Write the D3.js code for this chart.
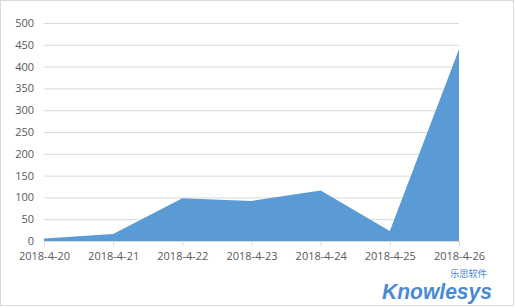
<!DOCTYPE html>
<html>
<head>
<meta charset="utf-8">
<script src="https://cdn.jsdelivr.net/npm/d3@7"></script>
<style>
  body { margin: 0; background: #fff; }
  .tick text { font-family: "Open Sans", "Noto Sans", sans-serif; font-size: 11px; fill: #595959; }
</style>
</head>
<body>
<div id="chart"></div>
<script>
// data
const dates = ["2018-4-20", "2018-4-21", "2018-4-22", "2018-4-23", "2018-4-24", "2018-4-25", "2018-4-26"];
const counts = [6, 16, 98, 92, 116, 23, 440];
const yTicks = [0, 50, 100, 150, 200, 250, 300, 350, 400, 450, 500];

const W = 515, H = 308;
const margin = { top: 23, right: 56, bottom: 67, left: 44 };
const width = W - margin.left - margin.right,
    height = H - margin.top - margin.bottom;

const root = d3.select("#chart").append("svg")
    .attr("width", W)
    .attr("height", H);

// outer frame
root.append("rect")
    .attr("x", 0.5).attr("y", 0.5)
    .attr("width", W - 2).attr("height", H - 3)
    .attr("fill", "#fff")
    .attr("stroke", "#d9d9d9");

const svg = root.append("g")
    .attr("transform", "translate(" + margin.left + "," + margin.top + ")");

const x = d3.scalePoint()
    .domain(dates)
    .range([0, width]);

const y = d3.scaleLinear()
    .domain([0, 500])
    .range([height, 0]);

// gridlines + y labels
const yAxis = svg.append("g")
    .call(d3.axisLeft(y).tickValues(yTicks).tickSize(-width).tickPadding(10));
yAxis.select(".domain").remove();
yAxis.selectAll(".tick line").attr("stroke", "#d9d9d9");
yAxis.selectAll(".tick").filter(d => d === 0).select("line").remove();

// area
const area = d3.area()
    .x(d => x(d.date))
    .y0(y(0))
    .y1(d => y(d.value));

svg.append("path")
    .datum(dates.map((d, i) => ({ date: d, value: counts[i] })))
    .attr("fill", "#5b9bd5")
    .attr("d", area);

// x axis
const xAxis = svg.append("g")
    .attr("transform", "translate(0," + height + ")")
    .call(d3.axisBottom(x).tickSize(5).tickPadding(6).tickSizeOuter(0));
xAxis.select(".domain").attr("stroke", "#d9d9d9");
xAxis.selectAll(".tick line").attr("stroke", "#d9d9d9");

// watermark
root.append("text")
    .attr("x", 382).attr("y", 299)
    .attr("font-family", "Liberation Sans, Arial, sans-serif")
    .attr("font-size", 22)
    .attr("font-weight", "bold")
    .attr("font-style", "italic")
    .attr("fill", "#4a8ad2")
    .attr("textLength", 110)
    .attr("lengthAdjust", "spacingAndGlyphs")
    .text("Knowlesys");
root.append("text")
    .attr("x", 450).attr("y", 277)
    .attr("font-family", "Noto Sans CJK SC, sans-serif")
    .attr("font-size", 9.5)
    .attr("fill", "#4a8ad2")
    .attr("textLength", 37)
    .text("乐思软件");
</script>
</body>
</html>
